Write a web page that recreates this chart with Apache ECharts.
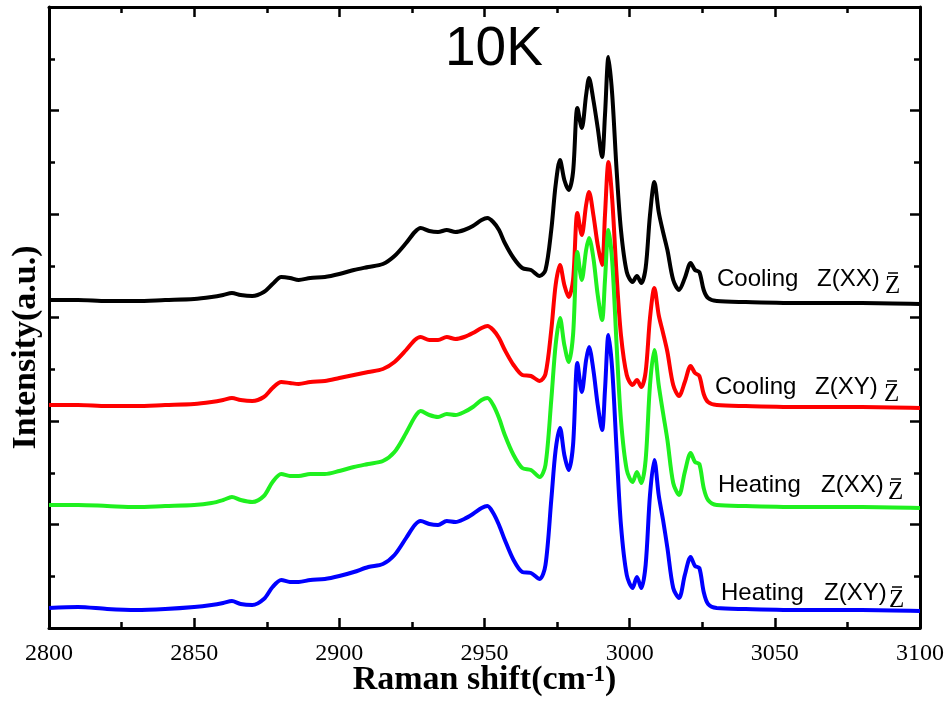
<!DOCTYPE html>
<html>
<head>
<meta charset="utf-8">
<script src="https://cdn.jsdelivr.net/npm/echarts@6.0.0/dist/echarts.min.js"></script>
<style>
  html, body { margin: 0; padding: 0; background: #fff; }
  #chart { width: 948px; height: 707px; }
</style>
</head>
<body>
<div id="chart"></div>
<script>
// Raman shift (cm-1), shared by all four spectra
const shift = [2800, 2810, 2820, 2830, 2840, 2850, 2856, 2860, 2863, 2866,
  2870, 2874, 2877, 2880, 2883, 2886, 2890, 2895, 2900, 2905,
  2910, 2915, 2919, 2923, 2926, 2928, 2931, 2934, 2937, 2940,
  2943, 2946, 2949, 2951, 2953, 2955, 2957, 2960, 2963, 2966,
  2969, 2971, 2973, 2974.5, 2976, 2977.5, 2979, 2980.5, 2982, 2983.5,
  2985, 2986, 2987.5, 2989, 2990.5, 2991.5, 2992.7, 2994, 2995.5, 2997,
  2999, 3001, 3002.5, 3004, 3005.5, 3007, 3008.5, 3010, 3011.5, 3013,
  3015, 3017, 3019, 3021, 3022.5, 3024, 3025.5, 3027, 3030, 3040,
  3060, 3080, 3100];

// intensities (a.u.), stacked with offsets as in the figure
const coolingXX = [328, 328, 327, 327, 328, 329, 331, 333, 335, 333,
  332, 336, 344, 351, 350, 348, 350, 351, 354, 358,
  361, 364, 372, 385, 396, 400, 397, 396, 398, 396,
  398, 402, 408, 410, 406, 398, 385, 370, 360, 358,
  352, 358, 398, 443, 468, 448, 438, 456, 520, 500,
  533, 550, 528, 500, 471, 513, 571, 533, 458, 398,
  356, 346, 352, 345, 360, 413, 446, 416, 396, 378,
  348, 338, 350, 365, 358, 356, 338, 330, 327, 326,
  325, 325, 324];

const coolingXY = [223, 223, 222, 222, 223, 224, 226, 228, 230, 228,
  227, 231, 240, 246, 245, 244, 246, 247, 250, 253,
  256, 259, 266, 278, 288, 291, 288, 288, 291, 289,
  291, 295, 300, 302, 298, 290, 278, 263, 253, 252,
  247, 254, 298, 343, 363, 343, 331, 348, 415, 393,
  423, 436, 413, 383, 363, 413, 466, 428, 353, 293,
  253, 243, 248, 241, 256, 310, 340, 313, 295, 276,
  243, 232, 246, 262, 255, 252, 234, 226, 223, 222,
  221, 221, 220];

const heatingXX = [123, 123, 122, 121, 122, 123, 125, 128, 131, 128,
  126, 132, 146, 154, 152, 152, 154, 154, 157, 161,
  164, 167, 176, 195, 211, 217, 213, 211, 214, 213,
  216, 221, 228, 230, 223, 210, 193, 173, 160, 158,
  151, 163, 228, 283, 310, 283, 266, 293, 376, 348,
  378, 390, 370, 333, 308, 348, 398, 366, 283, 208,
  158, 146, 156, 145, 168, 243, 278, 243, 215, 188,
  145, 133, 156, 175, 166, 164, 140, 128, 123, 122,
  121, 121, 120];

const heatingXY = [20, 21, 19, 18, 19, 21, 23, 25, 27, 24,
  23, 29, 41, 48, 46, 46, 48, 49, 52, 56,
  61, 64, 73, 90, 103, 107, 104, 103, 107, 106,
  109, 114, 120, 122, 115, 103, 88, 68, 56, 55,
  49, 63, 128, 178, 200, 173, 158, 183, 265, 236,
  268, 281, 258, 223, 198, 238, 293, 258, 178, 103,
  53, 40, 51, 40, 63, 133, 168, 133, 108, 80,
  40, 30, 53, 71, 62, 60, 36, 24, 20, 19,
  18, 18, 17];

const spectra = [
  { name: 'Cooling Z(XX)', values: coolingXX, color: '#000000' },
  { name: 'Cooling Z(XY)', values: coolingXY, color: '#ff0000' },
  { name: 'Heating Z(XX)', values: heatingXX, color: '#1ff01f' },
  { name: 'Heating Z(XY)', values: heatingXY, color: '#0000ff' }
];

// curve labels: [mode, geometry, mode left, middle y, geometry left, Z left]
const tags = [
  ['Cooling', 'Z(XX)', 717, 279, 817, 885],
  ['Cooling', 'Z(XY)', 715, 387, 815, 884],
  ['Heating', 'Z(XX)', 718, 485, 821, 888],
  ['Heating', 'Z(XY)', 721, 593, 824, 889]
];

const chart = echarts.init(document.getElementById('chart'));

const axisLine = { show: true, onZero: false, lineStyle: { color: '#000', width: 3 } };
const tick = { show: true, inside: true, length: 10, lineStyle: { color: '#000', width: 2.5 } };
const minor = { show: true, splitNumber: 2, length: 6, lineStyle: { color: '#000', width: 2.5 } };

const graphic = [{
  type: 'text', x: 445, y: 22,
  style: { text: '10K', font: '55px Arial, "Liberation Sans"', fill: '#000' }
}];
tags.forEach(t => {
  graphic.push({
    type: 'text', x: t[2], y: t[3],
    style: { text: t[0], font: '24px "Liberation Sans", Arial', fill: '#000', verticalAlign: 'middle' }
  });
  graphic.push({
    type: 'text', x: t[4], y: t[3],
    style: { text: t[1], font: '24px "Liberation Sans", Arial', fill: '#000', verticalAlign: 'middle' }
  });
  graphic.push({
    type: 'text', x: t[5], y: t[3] + 7,
    style: { text: 'Z', font: '25px "Liberation Serif", "Times New Roman"', fill: '#000', verticalAlign: 'middle' }
  });
  graphic.push({
    type: 'line',
    shape: { x1: t[5] + 3, y1: t[3] - 6, x2: t[5] + 13, y2: t[3] - 6 },
    style: { stroke: '#000', lineWidth: 1.5 }
  });
});

chart.setOption({
  animation: false,
  grid: { left: 49, right: 28, top: 7, bottom: 79, containLabel: false, outerBoundsMode: 'none' },
  xAxis: [{
    type: 'value', min: 2800, max: 3100, interval: 50,
    name: 'Raman shift(cm{sup|-1})', nameLocation: 'middle', nameGap: 35, nameMoveOverlap: false,
    nameTextStyle: {
      fontFamily: '"Liberation Serif", "Times New Roman"', fontWeight: 'bold', fontSize: 34, color: '#000',
      rich: { sup: { fontFamily: '"Liberation Serif"', fontWeight: 'bold', fontSize: 23, verticalAlign: 'bottom', padding: [0, 0, 10, 0] } }
    },
    axisLine, axisTick: tick, minorTick: minor,
    axisLabel: { fontFamily: '"Liberation Serif", "Times New Roman"', fontSize: 24, color: '#000', margin: 14, formatter: v => String(v) },
    splitLine: { show: false }
  }, {
    type: 'value', position: 'top', min: 2800, max: 3100, interval: 50,
    axisLine, axisTick: tick, minorTick: minor,
    axisLabel: { show: false }, splitLine: { show: false }
  }],
  yAxis: [{
    type: 'value', min: 0, max: 621, interval: 103.5,
    name: 'Intensity(a.u.)', nameLocation: 'middle', nameGap: 6,
    nameTextStyle: { fontFamily: '"Liberation Serif", "Times New Roman"', fontWeight: 'bold', fontSize: 34, color: '#000', padding: [0, 60, 0, 0] },
    axisLine, axisTick: tick, minorTick: minor,
    axisLabel: { show: false }, splitLine: { show: false }
  }, {
    type: 'value', position: 'right', min: 0, max: 621, interval: 103.5,
    axisLine, axisTick: tick, minorTick: minor,
    axisLabel: { show: false }, splitLine: { show: false }
  }],
  series: spectra.map(s => ({
    name: s.name, type: 'line', showSymbol: false, smooth: 0.3,
    clip: true,
    lineStyle: { color: s.color, width: 4 },
    data: shift.map((x, i) => [x, s.values[i]])
  })),
  graphic
});
</script>
</body>
</html>
